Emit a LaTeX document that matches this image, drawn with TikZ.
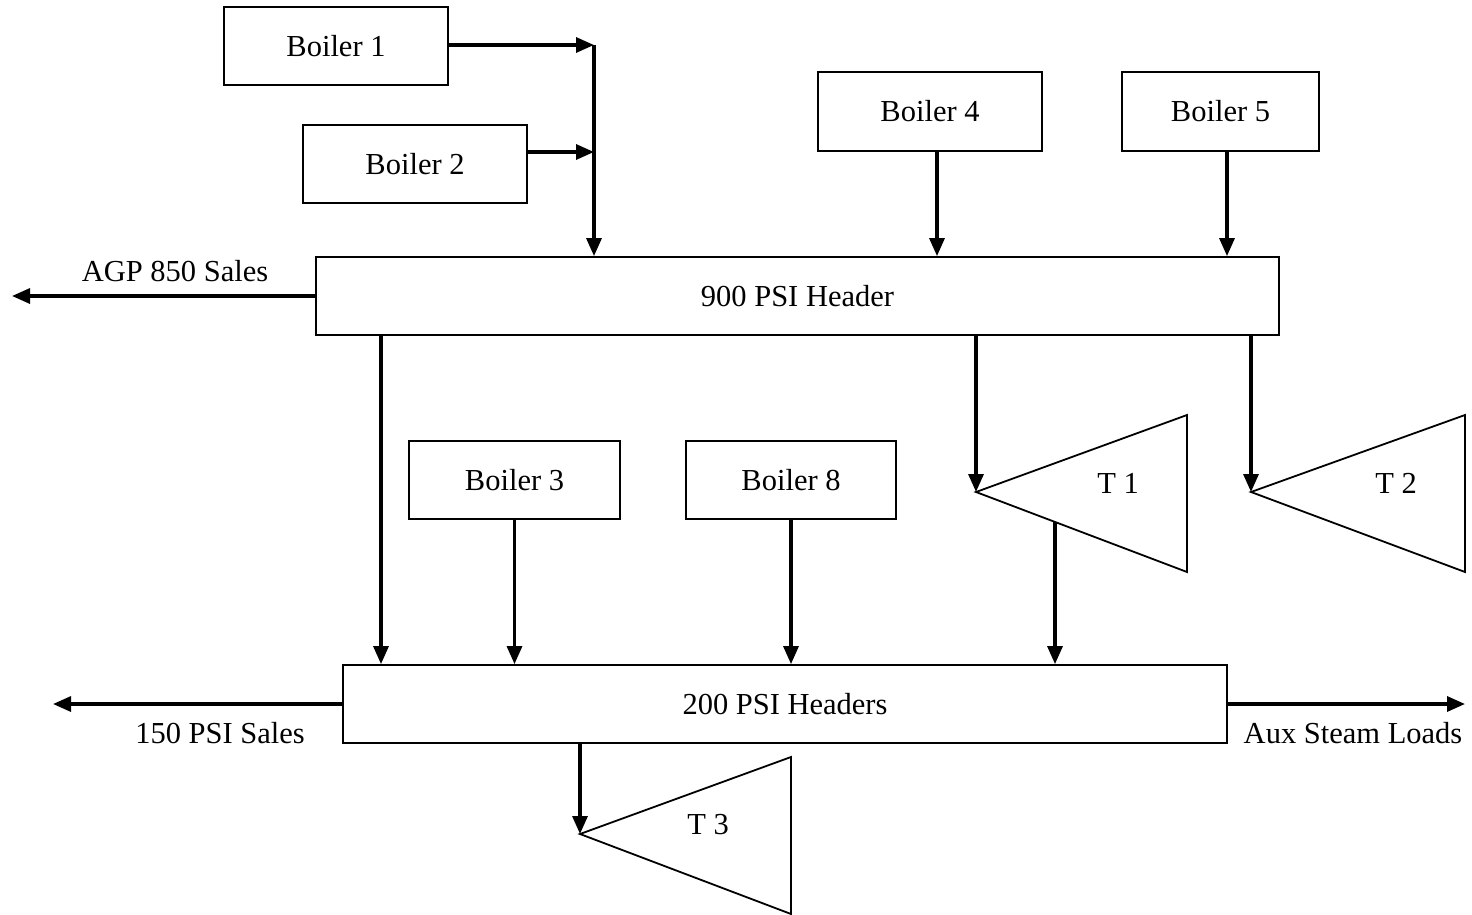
\documentclass[tikz,border=0pt]{standalone}
\usepackage{fontspec}
\setmainfont{Liberation Serif}
\usetikzlibrary{arrows.meta,calc}
\begin{document}
\begin{tikzpicture}[x=1pt,y=-1pt,
  every node/.style={font=\fontsize{30.5}{35}\selectfont},
  unit/.style={draw,line width=1.8pt,rectangle,inner sep=0pt},
  flow/.style={line width=3.2pt,-{Triangle[length=18pt,width=15pt]}},
  turbine/.style={draw,line width=1.8pt,line join=miter},
  lbl/.style={inner sep=0pt}]
\useasboundingbox (0,0) rectangle (1472,915);
% boilers
\node[unit,minimum width=224pt,minimum height=78pt] (b1) at (336,46) {Boiler 1};
\node[unit,minimum width=224pt,minimum height=78pt] (b2) at (415,164) {Boiler 2};
\node[unit,minimum width=224pt,minimum height=79pt] (b4) at (930,111.5) {Boiler 4};
\node[unit,minimum width=197pt,minimum height=79pt] (b5) at (1220.5,111.5) {Boiler 5};
\node[unit,minimum width=211pt,minimum height=78pt] (b3) at (514.5,480) {Boiler 3};
\node[unit,minimum width=210pt,minimum height=78pt] (b8) at (791,480) {Boiler 8};
% headers
\node[unit,minimum width=963pt,minimum height=78pt] (h900) at (797.5,296) {900 PSI Header};
\node[unit,minimum width=884pt,minimum height=78pt] (h200) at (785,704) {200 PSI Headers};
% turbines
\coordinate (t1tip) at (976,492);
\coordinate (t2tip) at (1251,492);
\coordinate (t3tip) at (580,834);
\draw[turbine] (t1tip) -- (1187,415) -- (1187,572) -- cycle;
\draw[turbine] (t2tip) -- (1465,415) -- (1465,572) -- cycle;
\draw[turbine] (t3tip) -- (791,757) -- (791,914) -- cycle;
\node[lbl] (t1) at (1118,483) {T 1};
\node[lbl] (t2) at (1396,483) {T 2};
\node[lbl] (t3) at (708,825) {T 3};
\coordinate (t1out) at (1055,522);
% boiler 1 and 2 collector
\coordinate (col) at (594,45);
\coordinate (b2out) at (527,152);
\coordinate (b4out) at (937,151);
\coordinate (b5out) at (1227,151);
\draw[flow] (b1.east |- col) -- (col);
\draw[flow] (b2out) -- (b2out -| col);
\draw[flow] (col) -- (col |- h900.north);
\draw[flow] (b4out) -- (b4out |- h900.north);
\draw[flow] (b5out) -- (b5out |- h900.north);
% 900 header outlets
\coordinate (agp) at (12,296);
\draw[flow] (h900.west) -- (agp);
\node[lbl] (agplbl) at (175,271) {AGP 850 Sales};
\coordinate (d1) at (381,335);
\draw[flow] (d1) -- (d1 |- h200.north);
\draw[flow] (t1tip |- h900.south) -- (t1tip);
\draw[flow] (t2tip |- h900.south) -- (t2tip);
% 200 header inlets
\draw[flow] (b3.south) -- (b3.south |- h200.north);
\draw[flow] (b8.south) -- (b8.south |- h200.north);
\draw[flow] (t1out) -- (t1out |- h200.north);
% 200 header outlets
\coordinate (ps150) at (53,704);
\coordinate (aux) at (1465,704);
\draw[flow] (h200.west) -- (ps150);
\draw[flow] (h200.east) -- (aux);
\node[lbl] (s150) at (220,733) {150 PSI Sales};
\node[lbl] (auxlbl) at (1353,733) {Aux Steam Loads};
\draw[flow] (t3tip |- h200.south) -- (t3tip);
\end{tikzpicture}
\end{document}
